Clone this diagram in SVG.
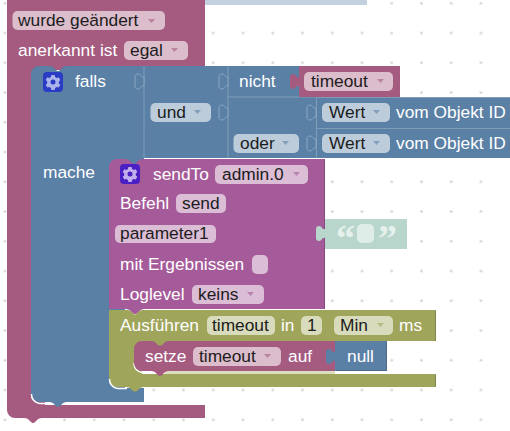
<svg xmlns="http://www.w3.org/2000/svg" width="510" height="431" viewBox="0 0 510 431">
<style>
text{font-family:"Liberation Sans",Arial,sans-serif;font-size:17.33px}
.w{fill:#fff}.d{fill:#1c1c1c}
.mar{fill:#a55b80}.blu{fill:#5b80a5}.pur{fill:#a55b99}.oli{fill:#9fa55b}
.fm{fill:#dbbdcc}.fb{fill:#bdccdb}.fp{fill:#dbbdd6}.fo{fill:#d9dbbd}
.sb{fill:none;stroke:#7f9cb9;stroke-width:1}
.so{fill:#5b80a5;stroke:#8aa6c2;stroke-width:1}
.hl{fill:none;stroke:#fff;stroke-width:1.500}
.eb{fill:none;stroke:#4a6a8a;stroke-width:1}
.ep{fill:none;stroke:#85497b;stroke-width:1}
.eo{fill:none;stroke:#80854a;stroke-width:1}
.a{opacity:.6}
</style>
<defs>
<pattern id="grid" x="5" y="3.3" width="29.75" height="29.75" patternUnits="userSpaceOnUse"><circle cx="1.5" cy="1.5" r="1.300" fill="#cfcfcf"/></pattern>
<path id="gear" d="M-1.6,-7h3.2l.5,2 1.6,.9 2,-.6 1.6,2.8 -1.5,1.4v1.9l1.5,1.4 -1.6,2.8 -2,-.6 -1.6,.9 -.5,2h-3.2l-.5,-2 -1.6,-.9 -2,.6 -1.6,-2.8 1.5,-1.4v-1.9l-1.5,-1.4 1.6,-2.8 2,.6 1.6,-.9z"/>
<path id="tab" d="M0,3c-3,1 -3,-3 -6,-3c-2,0 -3,1 -3,3v9c0,2 1,3 3,3c3,0 3,-4 6,-3z"/>
</defs>
<rect id="background" width="510" height="431" fill="#fff"/>
<rect width="510" height="431" fill="url(#grid)" transform="translate(-1.500,-1.500)"/>
<rect x="205" y="0" width="162" height="5" fill="#c3d0e0"/>

<g id="trigger-block">
<path class="mar" d="M7,0H205V70H45V405H205V418H42c-3,0 -4,1 -6,3 -1.500,1.500 -2,2 -3,2 -1,0 -1.500,-.5 -3,-2 -2,-2 -3,-3 -6,-3H15a8,8 0 0 1 -8,-8z"/>
<rect class="fm" x="12.500" y="11" width="152.500" height="19" rx="5"/>
<text class="d" x="18" y="26">wurde geändert</text>
<path class="a" d="M148,19h7l-3.500,4z" fill="#a55b80"/>
<text class="w" x="18" y="56">anerkannt ist</text>
<rect class="fm" x="124" y="41" width="64" height="19" rx="5"/>
<text class="d" x="130" y="56">egal</text>
<path class="a" d="M171,48h7l-3.500,4z" fill="#a55b80"/>
</g>

<g id="falls-block">
<path class="blu" d="M39,66H49c3,0 4,1 6,3 1.500,1.500 2,2 3,2 1,0 1.500,-.5 3,-2 2,-2 3,-3 6,-3H299V97H316V158H144V166H125V388H144V402H67c-3,0 -4,1 -6,3 -1.500,1.500 -2,2 -3,2 -1,0 -1.500,-.5 -3,-2 -2,-2 -3,-3 -6,-3H39a8,8 0 0 1 -8,-8V74a8,8 0 0 1 8,-8z"/>
<path class="hl" d="M31.500,394a9,9 0 0 0 8,9.500H49"/>
<path class="sb" d="M144,66V158M228,66V158M228,97H316"/>
<use href="#tab" x="144" y="74" class="so"/>
<use href="#tab" x="228" y="74" class="so"/>
<use href="#tab" x="228" y="105" class="so"/>
<rect x="43" y="72" width="20" height="20" rx="4" fill="#2a3cc4"/>
<use href="#gear" x="53" y="82" fill="#aab4ea"/><circle cx="53" cy="82" r="2.500" fill="#2a3cc4"/>
<text class="w" x="75" y="87">falls</text>
<text class="w" x="43" y="178">mache</text>
<text class="w" x="239" y="87">nicht</text>
<rect class="fb" x="150.500" y="103" width="60.500" height="19" rx="5"/>
<text class="d" x="157" y="118">und</text>
<path d="M194,110h7l-3.500,4z" fill="#5b80a5" class="a"/>
<rect class="fb" x="233.500" y="134" width="65.500" height="19" rx="5"/>
<text class="d" x="240" y="149">oder</text>
<path d="M282,141h7l-3.500,4z" fill="#5b80a5" class="a"/>
</g>

<g id="timeout-value">
<rect class="mar" x="299" y="66" width="101" height="31"/>
<use href="#tab" x="299" y="74" class="mar"/>
<rect class="fm" x="304" y="72" width="89" height="19" rx="5"/>
<text class="d" x="311" y="87">timeout</text>
<path class="a" d="M377,79h7l-3.500,4z" fill="#a55b80"/>
</g>

<g id="wert-1">
<rect class="blu" x="316" y="97" width="194" height="31"/>
<path class="sb" d="M510,97.500H316.500V128M316,128.500H510"/>
<use href="#tab" x="316" y="105" class="so"/>
<rect class="fb" x="322" y="103" width="68" height="19" rx="5"/>
<text class="d" x="329" y="118">Wert</text>
<path d="M373,110h7l-3.500,4z" fill="#5b80a5" class="a"/>
<text class="w" x="396" y="118">vom Objekt ID</text>
</g>
<g id="wert-2">
<rect class="blu" x="316" y="129" width="194" height="29"/>
<path class="sb" d="M316.500,128V158"/>
<use href="#tab" x="316" y="136" class="so"/>
<rect class="fb" x="322" y="134" width="68" height="19" rx="5"/>
<text class="d" x="329" y="149">Wert</text>
<path d="M373,141h7l-3.500,4z" fill="#5b80a5" class="a"/>
<text class="w" x="396" y="149">vom Objekt ID</text>
</g>

<g id="sendto-block">
<path class="pur" d="M117,159H125c3,0 4,1 6,3 1.500,1.500 2,2 3,2 1,0 1.500,-.5 3,-2 2,-2 3,-3 6,-3H325V309H144c-3,0 -4,1 -6,3 -1.500,1.500 -2,2 -3,2 -1,0 -1.500,-.5 -3,-2 -2,-2 -3,-3 -6,-3H109V167a8,8 0 0 1 8,-8z"/>
<path class="ep" d="M324.500,159V309"/>
<use href="#tab" x="325" y="226" fill="#b9d6cc"/>
<rect x="120" y="164" width="20" height="20" rx="4" fill="#4a1fc4"/>
<use href="#gear" x="130" y="174" fill="#c0b0ec"/><circle cx="130" cy="174" r="2.500" fill="#4a1fc4"/>
<text class="w" x="153" y="180">sendTo</text>
<rect class="fp" x="215" y="165" width="93" height="19" rx="5"/>
<text class="d" x="222" y="180">admin.0</text>
<path d="M293,172h7l-3.500,4z" fill="#a55b99" class="a"/>
<text class="w" x="120" y="209">Befehl</text>
<rect class="fp" x="176" y="194" width="50" height="19" rx="5"/>
<text class="d" x="182" y="209">send</text>
<rect class="fp" x="115" y="225" width="101" height="18" rx="5"/>
<text class="d" x="120" y="239">parameter1</text>
<text class="w" x="120" y="270">mit Ergebnissen</text>
<rect class="fp" x="252" y="255" width="16" height="19" rx="5"/>
<text class="w" x="120" y="300">Loglevel</text>
<rect class="fp" x="192" y="285" width="72" height="19" rx="5"/>
<text class="d" x="198" y="300">keins</text>
<path d="M247,292h7l-3.500,4z" fill="#a55b99" class="a"/>
</g>

<g id="string-value">
<rect x="325" y="219" width="82" height="30" fill="#b9d6cc"/>
<rect x="357" y="224" width="17" height="19" rx="5" fill="#dfede8"/>
<text x="336" y="251" style="font-family:'Liberation Serif',serif;font-size:38px;font-weight:bold" fill="#e6f1ed">“</text>
<text x="378" y="251" style="font-family:'Liberation Serif',serif;font-size:38px;font-weight:bold" fill="#e6f1ed">”</text>
</g>

<g id="timeout-block">
<path class="oli" d="M109,310H127c3,0 4,1 6,3 1,1 1.500,1.500 2,1.500 .5,0 1,-.5 2,-1.500 2,-2 3,-3 6,-3H436V341H170V347H142V374H436V387H144c-3,0 -4,1 -6,3 -1,1 -1.500,1.500 -3,1.500 -1.500,0 -2,-.5 -3,-1.500 -2,-2 -3,-3 -6,-3H117a8,8 0 0 1 -8,-8z"/>
<rect x="165" y="371" width="170" height="3" fill="#dcdebf"/>
<path class="eo" d="M435.500,310.500V341M435.500,374.500V387"/>
<path class="hl" d="M109.500,379a9,9 0 0 0 8,9.500H127M134,363a9,9 0 0 0 8,9.500H156"/>
<path class="pur" d="M126,309H144c-3,0 -4,1 -6,3 -1.500,1.500 -2,2 -3,2 -1,0 -1.500,-.5 -3,-2 -2,-2 -3,-3 -6,-3z"/>
<text class="w" x="120" y="331">Ausführen</text>
<rect class="fo" x="207" y="316" width="68" height="19" rx="5"/>
<text class="d" x="212" y="331">timeout</text>
<text class="w" x="281" y="331">in</text>
<rect class="fo" x="301" y="316" width="21" height="19" rx="5"/>
<text class="d" x="307" y="331">1</text>
<rect class="fo" x="334" y="316" width="59" height="19" rx="5"/>
<text class="d" x="340" y="331">Min</text>
<path d="M377,323h7l-3.500,4z" fill="#9fa55b" class="a"/>
<text class="w" x="399" y="331">ms</text>
</g>

<g id="setze-block">
<path class="mar" d="M142,341H151c3,0 4,1 6,3 1,1 1.500,1.500 3,1.500 1.500,0 2,-.5 3,-1.500 2,-2 3,-3 6,-3H335V371H169c-3,0 -4,1 -6,3 -1,1 -1.500,2 -3,2 -1.500,0 -2,-1 -3,-2 -2,-2 -3,-3 -6,-3H142a8,8 0 0 1 -8,-8V349a8,8 0 0 1 8,-8z"/>
<text class="w" x="145" y="362">setze</text>
<rect class="fm" x="193" y="347" width="88" height="19" rx="5"/>
<text class="d" x="199" y="362">timeout</text>
<path class="a" d="M264,354h7l-3.500,4z" fill="#a55b80"/>
<text class="w" x="288" y="362">auf</text>
</g>

<g id="null-value">
<rect class="blu" x="335" y="341" width="52" height="30"/>
<use href="#tab" x="335" y="349" class="blu"/>
<path class="eb" d="M336,370.500H386.500V341.500"/>
<text class="w" x="347" y="362">null</text>
</g>
</svg>
